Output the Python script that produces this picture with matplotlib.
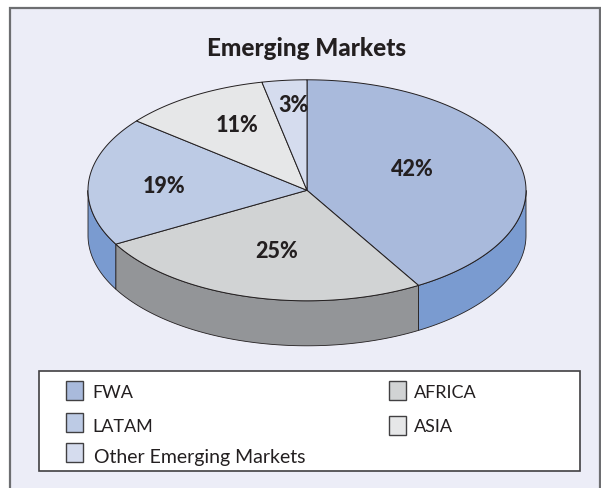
import numpy as np
import matplotlib
matplotlib.use("Agg")
import matplotlib.pyplot as plt
from matplotlib.patches import Rectangle

title = "Emerging Markets"
categories = ["FWA", "AFRICA", "LATAM", "ASIA", "Other Emerging Markets"]
values = [41.5, 25.4, 18.9, 10.9, 3.3]
labels = ["42%", "25%", "19%", "11%", "3%"]

top_colors = ["#A9BADC", "#D1D3D4", "#BDCBE5", "#E6E7E8", "#D5DCEE"]
side_colors = ["#7A9BD0", "#939598", "#7A9BD0", "#939598", "#7A9BD0"]
legend_colors = ["#A9BADC", "#D1D3D4", "#BDCBE5", "#E6E7E8", "#D5DCEE"]

plt.rcParams["font.family"] = ["Lato", "DejaVu Sans"]
W, H = 601, 489
fig = plt.figure(figsize=(W / 100, H / 100), dpi=100, facecolor="white")
ax = fig.add_axes([0, 0, 1, 1])
ax.set_xlim(0, W)
ax.set_ylim(H, 0)
ax.axis("off")

EDGE = "#231F20"
ax.add_patch(Rectangle((10, 9), 589.5, 490, fc="#ECEDF7", ec="#6D6E71", lw=1.6, zorder=0))
ax.text(307, 48, title, ha="center", va="center", fontsize=17.5, fontweight="black", color="#231F20")

cx, cy, rx, ry, depth = 307, 191.3, 219, 110.5, 45


def pt(a, dy=0.0):
    return cx + rx * np.sin(a), cy - ry * np.cos(a) + dy


bounds = np.concatenate([[0], np.cumsum(values)]) / np.sum(values) * 2 * np.pi

# side walls (only the front half of the rim is visible)
for i in range(len(values)):
    a0, a1 = max(bounds[i], np.pi / 2), min(bounds[i + 1], 3 * np.pi / 2)
    if a1 <= a0:
        continue
    t = np.linspace(a0, a1, 200)
    x, y = pt(t)
    xb, yb = pt(t[::-1], depth)
    ax.fill(np.r_[x, xb], np.r_[y, yb], fc=side_colors[i], ec=EDGE, lw=0.6, zorder=1)

# top face
for i in range(len(values)):
    t = np.linspace(bounds[i], bounds[i + 1], 200)
    x, y = pt(t)
    ax.fill(np.r_[cx, x], np.r_[cy, y], fc=top_colors[i], ec=EDGE, lw=0.7, zorder=2)

label_pos = [(412.5, 169), (276.5, 251.5), (164, 186.5), (237, 126), (293, 106)]
for s, (lx, ly) in zip(labels, label_pos):
    ax.text(lx, ly, s, ha="center", va="center", fontsize=15.5, fontweight="black", color="#231F20", zorder=3)

# legend
ax.add_patch(Rectangle((38.5, 372), 541.5, 100, fc="white", ec="#414042", lw=1.2, zorder=1))
legend_pos = [(65.5, 382, 92), (388.5, 382, 414), (65.5, 414, 92), (388.5, 417, 414), (65.5, 444, 93.5)]
legend_y = [393, 393, 427, 427, 457]
legend_size = [13, 13, 13, 13, 14]
for name, c, (sx, sy, tx), ty, fs in zip(categories, legend_colors, legend_pos, legend_y, legend_size):
    ax.add_patch(Rectangle((sx, sy), 17, 19, fc=c, ec="#414042", lw=1.0, zorder=2))
    ax.text(tx, ty, name, ha="left", va="center", fontsize=fs, color="#231F20", zorder=3)

fig.savefig("out.png", dpi=100)
